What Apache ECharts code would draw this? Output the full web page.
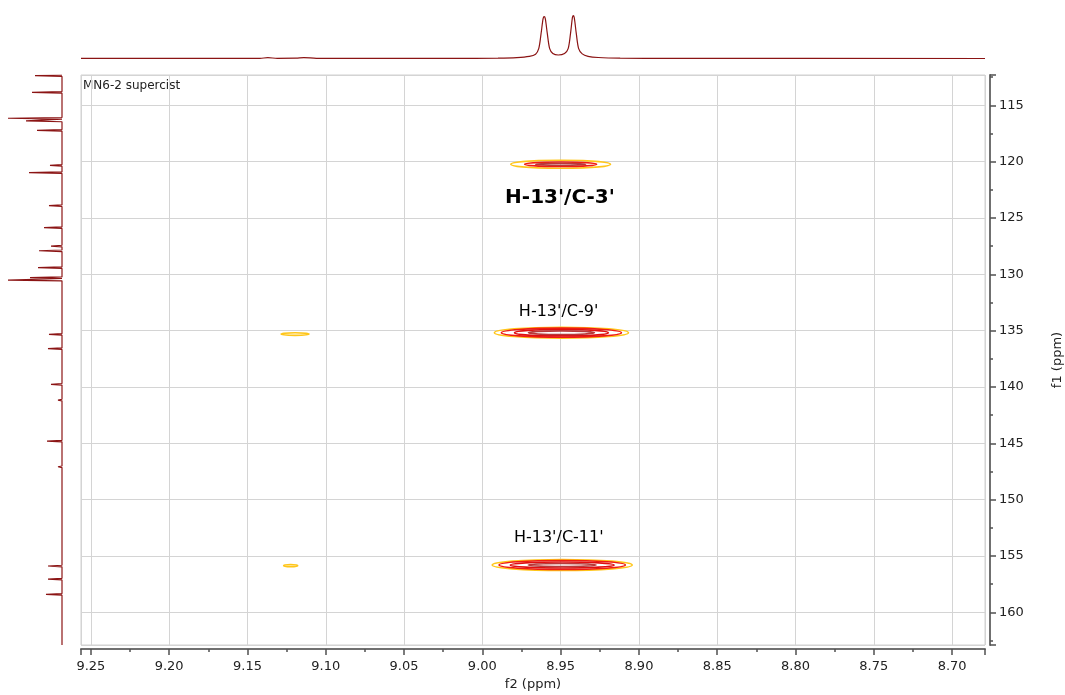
<!DOCTYPE html>
<html>
<head>
<meta charset="utf-8">
<script src="https://cdn.jsdelivr.net/npm/echarts@6/dist/echarts.min.js"></script>
<style>
html,body{margin:0;padding:0;background:#fff;}
#chart{width:1065px;height:695px;}
</style>
</head>
<body>
<div id="chart"></div>
<script>
// ---- axis ranges (ppm) ----
const f2Range = [8.679, 9.2563];
const f1Range = [112.31, 162.90];

// ---- top 1H projection (ppm, intensity) ----
const topTracePpm = [9.2563, 9.142, 9.137, 9.131, 9.119, 9.114, 9.106, 9.02, 8.990, 8.978, 8.970, 8.966, 8.9640, 8.9625, 8.9612, 8.9605, 8.9598, 8.9585, 8.9570, 8.9550, 8.9515, 8.9475, 8.9452, 8.9437, 8.9425, 8.9420, 8.9413, 8.9400, 8.9385, 8.9362, 8.9325, 8.926, 8.912, 8.88, 8.679];
const topTraceInt = [0.3, 0.4, 1.0, 0.4, 0.5, 1.1, 0.4, 0.3, 0.6, 1.1, 2.3, 4.5, 10, 25, 40, 42, 40, 25, 10, 5.2, 3.7, 5.2, 10, 25, 41, 43, 41, 25, 10, 4.8, 2.4, 1.2, 0.5, 0.3, 0.2];

// ---- left 13C projection: peak positions (ppm) and heights ----
const f1PeakPpm = [112.37, 113.85, 116.15, 116.39, 117.22, 120.33, 120.98, 123.91, 125.86, 127.49, 127.91, 129.41, 130.30, 130.51, 135.33, 136.60, 139.76, 141.16, 144.80, 147.08, 155.89, 157.05, 158.41];
const f1PeakInt = [27, 30, 54, 36, 25, 12, 33, 13, 18, 11, 23, 24, 32, 54, 13, 14, 11, 4, 15, 4, 14, 14, 16];

// ---- HMBC cross peaks ----
const crossF2 = [8.9500, 8.9495, 8.9490, 9.1196, 9.1224];
const crossF1 = [120.23, 135.18, 155.80, 135.30, 155.86];
// contour levels: which peak, level index, half width (f2 ppm), half height (f1 ppm)
const contourPeak  = [0, 0, 0, 1, 1, 1, 1, 2, 2, 2, 2, 3, 4];
const contourLevel = [0, 1, 3, 0, 1, 2, 3, 0, 1, 2, 3, 0, 0];
const contourHalfF2 = [0.0319, 0.0230, 0.0160, 0.0428, 0.0383, 0.0300, 0.0211, 0.0447, 0.0403, 0.0332, 0.0217, 0.0089, 0.0045];
const contourHalfF1 = [0.355, 0.204, 0.090, 0.488, 0.400, 0.284, 0.160, 0.488, 0.400, 0.266, 0.133, 0.115, 0.090];
const levelColors = ['#ffc61a', '#f01c14', '#e01010', '#b83a3a'];

// ---- annotations ----
const annText = ["H-13'/C-3'", "H-13'/C-9'", "H-13'/C-11'"];
const annF2 = [8.9504, 8.9513, 8.9512];
const annF1 = [123.2, 133.3, 153.4];
const annBold = [true, false, false];

const FONT = 'DejaVu Sans';
const traceColor = '#8b1414';

const topData = topTracePpm.map((p, i) => [p, topTraceInt[i]]);
const leftData = [];
const order = f1PeakPpm.map((p, i) => i).sort((a, b) => f1PeakPpm[a] - f1PeakPpm[b]);
leftData.push([0, f1Range[0]]);
order.forEach(i => {
  leftData.push([0, f1PeakPpm[i] - 0.07]);
  leftData.push([f1PeakInt[i], f1PeakPpm[i]]);
  leftData.push([0, f1PeakPpm[i] + 0.07]);
});
leftData.push([0, f1Range[1]]);

const contourData = contourPeak.map((pk, i) => [crossF2[pk], crossF1[pk], contourHalfF2[i], contourHalfF1[i], contourLevel[i]]);
const annData = annText.map((t, i) => ({value: [annF2[i], annF1[i]], label: {show: true, formatter: t, color: '#000', fontWeight: annBold[i] ? 'bold' : 'normal', fontSize: annBold[i] ? 20 : 16}}));

const chart = echarts.init(document.getElementById('chart'));
chart.setOption({
  animation: false,
  textStyle: {fontFamily: FONT},
  grid: [
    {left: 81, top: 75, width: 904, height: 570, show: true, borderColor: '#d0d0d0', borderWidth: 1, backgroundColor: 'transparent', containLabel: false, outerBoundsMode: 'none'},
    {left: 81, top: 10, width: 904, height: 50, containLabel: false, outerBoundsMode: 'none'},
    {left: 2, top: 75, width: 60, height: 570, containLabel: false, outerBoundsMode: 'none'}
  ],
  xAxis: [
    {gridIndex: 0, type: 'value', inverse: true, min: f2Range[0], max: f2Range[1], splitNumber: 11,
     position: 'bottom', offset: 4,
     axisLine: {show: true, onZero: false, lineStyle: {color: '#707070', width: 2}},
     axisTick: {show: true, length: 6, lineStyle: {color: '#505050', width: 1.5}},
     minorTick: {show: true, splitNumber: 2, length: 3, lineStyle: {color: '#505050', width: 1.5}},
     splitLine: {show: true, lineStyle: {color: '#d4d4d4', width: 1}},
     axisLabel: {fontSize: 13, color: '#222', margin: 11, showMinLabel: false, showMaxLabel: false, fontFamily: FONT,
                 formatter: v => v.toFixed(2)},
     name: 'f2 (ppm)', nameLocation: 'middle', nameGap: 29, nameTextStyle: {fontSize: 13, color: '#222', fontFamily: FONT}},
    {gridIndex: 1, type: 'value', inverse: true, min: f2Range[0], max: f2Range[1], show: false},
    {gridIndex: 2, type: 'value', inverse: true, min: 0, max: 60, show: false}
  ],
  yAxis: [
    {gridIndex: 0, type: 'value', inverse: true, min: f1Range[0], max: f1Range[1], splitNumber: 10,
     position: 'right', offset: 5,
     axisLine: {show: true, onZero: false, lineStyle: {color: '#707070', width: 2}},
     axisTick: {show: true, length: 6, lineStyle: {color: '#505050', width: 1.5}},
     minorTick: {show: true, splitNumber: 2, length: 3, lineStyle: {color: '#505050', width: 1.5}},
     splitLine: {show: true, lineStyle: {color: '#d4d4d4', width: 1}},
     axisLabel: {fontSize: 13, color: '#222', margin: 9, showMinLabel: false, showMaxLabel: false, fontFamily: FONT},
     name: 'f1 (ppm)', nameLocation: 'middle', nameGap: 61, nameRotate: 90, nameTextStyle: {fontSize: 13, color: '#222', fontFamily: FONT}},
    {gridIndex: 1, type: 'value', min: -1.3, max: 48.7, show: false},
    {gridIndex: 2, type: 'value', inverse: true, min: f1Range[0], max: f1Range[1], show: false}
  ],
  graphic: [
    {type: 'text', left: 83, top: 80, style: {text: 'MN6-2 supercist', fontSize: 12, fill: '#222', fontFamily: FONT}}
  ],
  series: [
    {type: 'line', xAxisIndex: 1, yAxisIndex: 1, data: topData, showSymbol: false, smooth: 0.3,
     lineStyle: {color: traceColor, width: 1.2}, silent: true},
    {type: 'line', xAxisIndex: 2, yAxisIndex: 2, data: leftData, showSymbol: false,
     lineStyle: {color: traceColor, width: 1.2}, silent: true},
    {type: 'custom', xAxisIndex: 0, yAxisIndex: 0, data: contourData, encode: {x: 0, y: 1}, clip: true,
     renderItem: function (params, api) {
       const c = api.coord([api.value(0), api.value(1)]);
       const s = api.size([api.value(2), api.value(3)]);
       return {type: 'ellipse', shape: {cx: c[0], cy: c[1], rx: s[0], ry: s[1]},
               style: {fill: 'none', stroke: levelColors[api.value(4)], lineWidth: 1.6}};
     }},
    {type: 'scatter', xAxisIndex: 0, yAxisIndex: 0, symbolSize: 0, data: annData, silent: true,
     itemStyle: {opacity: 1},
     label: {show: true, position: 'inside', color: '#000', fontFamily: FONT}}
  ]
});
</script>
</body>
</html>
